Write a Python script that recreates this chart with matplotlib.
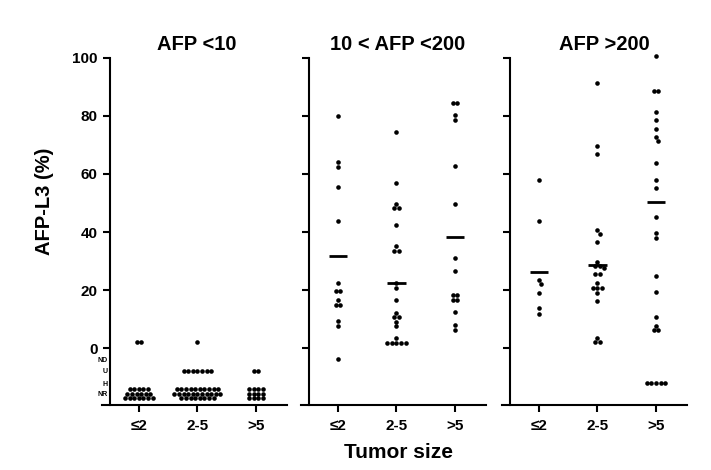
import numpy as np
import matplotlib
matplotlib.use("Agg")
import matplotlib.pyplot as plt

plt.rcParams['font.family'] = ['Liberation Sans', 'DejaVu Sans']
plt.rcParams['font.weight'] = 'bold'

# ---------------- data ----------------
panel_titles = ["AFP <10", "10 < AFP <200", "AFP >200"]
size_labels = ["\u22642", "2-5", ">5"]
cat_labels = ["ND", "U", "H", "NR"]
cat_values = [-3.8, -7.7, -12.0, -15.7]
y_ticks = [0, 20, 40, 60, 80, 100]

# AFP <10
afp10_le2 = [2.2, 2.2,
             -14.1, -14.1, -14.1, -14.1, -14.1,
             -15.6, -15.6, -15.6, -15.6, -15.6, -15.6,
             -17.2, -17.2, -17.2, -17.2, -17.2, -17.2, -17.2]
afp10_2to5 = [2.2,
              -7.7, -7.7, -7.7, -7.7, -7.7, -7.7, -7.7,
              -14.1, -14.1, -14.1, -14.1, -14.1, -14.1, -14.1, -14.1, -14.1, -14.1,
              -15.6, -15.6, -15.6, -15.6, -15.6, -15.6, -15.6, -15.6, -15.6, -15.6, -15.6,
              -17.2, -17.2, -17.2, -17.2, -17.2, -17.2, -17.2, -17.2]
afp10_gt5 = [-7.7, -7.7,
             -14.1, -14.1, -14.1, -14.1,
             -15.6, -15.6, -15.6, -15.6,
             -17.2, -17.2, -17.2, -17.2]

# 10 < AFP < 200
afp200_le2 = [79.9, 64.2, 62.5, 55.4, 43.8, 22.4, 19.6, 19.6, 16.6, 15.0, 15.0,
              9.5, 7.7, -3.8]
afp200_2to5 = [74.3, 56.8, 49.6, 48.2, 48.2, 42.4, 35.2, 33.6, 33.6, 22.4, 20.7,
               16.6, 12.2, 10.8, 10.8, 9.2, 7.7, 3.6, 2.0, 2.0, 2.0, 2.0, 2.0]
afp200_gt5 = [84.4, 84.4, 80.3, 78.4, 62.8, 49.8, 30.9, 26.6, 18.2, 18.2, 16.6,
              16.6, 12.4, 8.0, 6.4]

# AFP > 200
afphi_le2 = [58.0, 43.8, 23.5, 22.1, 19.1, 13.7, 11.8]
afphi_2to5 = [91.2, 69.6, 66.8, 40.7, 39.3, 36.6, 29.6, 28.4, 28.4, 27.8, 25.7,
              25.7, 22.3, 20.6, 20.6, 20.6, 19.0, 16.4, 3.6, 2.1, 2.1]
afphi_gt5 = [100.4, 88.4, 88.4, 81.4, 78.4, 75.4, 72.6, 71.2, 63.8, 58.0, 55.2,
             45.2, 39.5, 37.8, 25.0, 19.3, 10.7, 7.8, 6.4, 6.4,
             -11.9, -11.9, -11.9, -11.9, -11.9]

# group mean lines (None = not drawn)
afp10_means = [None, None, None]
afp200_means = [31.8, 22.5, 38.2]
afphi_means = [26.1, 28.8, 50.3]

panels = [
    ([afp10_le2, afp10_2to5, afp10_gt5], afp10_means),
    ([afp200_le2, afp200_2to5, afp200_gt5], afp200_means),
    ([afphi_le2, afphi_2to5, afphi_gt5], afphi_means),
]

# ---------------- layout ----------------
W, H = 711, 470
fig = plt.figure(figsize=(W / 100, H / 100), dpi=100)

YMIN, YMAX = -19.6, 103.0
XMIN, XMAX = 0.37, 3.53
ax_w_px = 185.0
ax_bottom_px = 405.3
ax_top_px = 48.9
lefts_px = [102, 301, 502]

sx = ax_w_px / (XMAX - XMIN)             # px per x unit
sy = (ax_bottom_px - ax_top_px) / (YMAX - YMIN)  # px per y unit
d = 4.6  # marker spacing in px


def swarm_offsets(vals):
    vals = np.asarray(vals, dtype=float)
    xs = np.zeros(len(vals))
    uniq = sorted(set(vals.tolist()), reverse=True)
    placed = []
    thr = 0.9 * d
    for u in uniq:
        idx = np.where(vals == u)[0]
        n = len(idx)
        ypx = u * sy
        base = (np.arange(n) - (n - 1) / 2.0) * d
        chosen = None
        for shift in [0, 0.5 * d, -0.5 * d, d, -d, 1.5 * d, -1.5 * d, 2 * d, -2 * d]:
            for s in ([1.0, 1.3, 1.6, 2.0] if n > 1 else [1.0]):
                offs = base * s + shift
                ok = True
                for o in offs:
                    for (px, py) in placed:
                        if np.hypot(o - px, ypx - py) < thr:
                            ok = False
                            break
                    if not ok:
                        break
                if ok:
                    chosen = offs
                    break
            if chosen is not None:
                break
        if chosen is None:
            chosen = base
        for i, o in zip(idx, chosen):
            xs[i] = o / sx
            placed.append((o, ypx))
    return xs


axes = []
for p, (groups, means) in enumerate(panels):
    ax = fig.add_axes([lefts_px[p] / W, (H - ax_bottom_px) / H,
                       ax_w_px / W, (ax_bottom_px - ax_top_px) / H])
    axes.append(ax)
    ax.set_xlim(XMIN, XMAX)
    ax.set_ylim(YMIN, YMAX)
    for gi, vals in enumerate(groups):
        c = gi + 1
        offs = swarm_offsets(vals)
        ax.plot(c + offs, vals, 'o', color='black', ms=3.3, mew=0,
                clip_on=False, zorder=3)
        m = means[gi]
        if m is not None:
            ax.plot([c - 0.155, c + 0.155], [m, m], color='black', lw=2.0,
                    solid_capstyle='butt', zorder=4)

    for s in ['top', 'right']:
        ax.spines[s].set_visible(False)
    ax.spines['left'].set_position(('data', 0.5))
    ax.spines['left'].set_bounds(YMIN, 100)
    ax.spines['left'].set_linewidth(1.5)
    ax.spines['bottom'].set_linewidth(1.5)

    ax.set_xticks([1, 2, 3])
    ax.set_xticklabels(size_labels, fontsize=11, fontweight='bold')
    ax.set_yticks(y_ticks)
    ax.set_yticklabels([str(v) for v in y_ticks], fontsize=11, fontweight='bold')
    ax.tick_params(axis='both', which='major', direction='out', length=5,
                   width=1.5, pad=3.5)
    ax.tick_params(axis='x', pad=5)
    if p == 0:
        ax.set_yticks(cat_values, minor=True)
        ax.set_yticklabels(cat_labels, minor=True, fontsize=5, fontweight='bold')
        ax.tick_params(axis='y', which='minor', length=0, pad=1.5)
    else:
        ax.tick_params(axis='y', labelleft=False)
    ax.patch.set_visible(False)

title_x = [197, 398, 604]
for t, x in zip(panel_titles, title_x):
    fig.text(x / W, 1 - 45 / H, t, ha='center', va='center', fontsize=14.5,
             fontweight='bold')

fig.text(398 / W, 1 - 453 / H, "Tumor size", ha='center', va='center',
         fontsize=15, fontweight='bold')
fig.text(45 / W, 1 - 201 / H, "AFP-L3 (%)", ha='center', va='center',
         rotation=90, fontsize=14.5, fontweight='bold')

fig.savefig("out.png", dpi=100)
